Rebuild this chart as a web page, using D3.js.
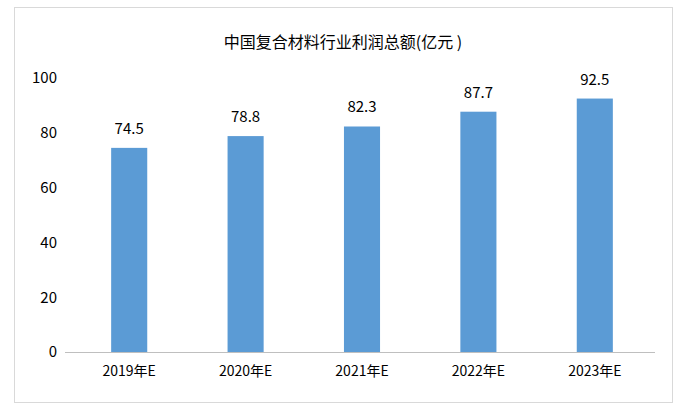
<!DOCTYPE html>
<html><head><meta charset="utf-8">
<script src="https://cdn.jsdelivr.net/npm/d3@7"></script>
<style>body{margin:0;background:#fff}</style></head>
<body><svg id="c" width="690" height="413"></svg>
<script>
const categories=["2019年E","2020年E","2021年E","2022年E","2023年E"];
const values=[74.5,78.8,82.3,87.7,92.5];
const yTicks=[0,20,40,60,80,100];
const title="中国复合材料行业利润总额(亿元 )";
const svg=d3.select("#c");
const font="'Noto Sans CJK SC','Microsoft YaHei',sans-serif";
svg.append("rect").attr("x",14.5).attr("y",7.5).attr("width",658).attr("height",395).attr("fill","#fff").attr("stroke","#d9d9d9");
const x=d3.scaleBand().domain(categories).range([71,653]).paddingInner(0.69).paddingOuter(0.345);
const y=d3.scaleLinear().domain([0,100]).range([352,78]);
svg.append("text").attr("x",343).attr("y",48).attr("text-anchor","middle").attr("font-family",font).attr("font-size",16).attr("fill","#000").text(title);
const ya=svg.append("g").attr("transform","translate(63,0)").call(d3.axisLeft(y).tickValues(yTicks).tickSize(0).tickPadding(0));
ya.select(".domain").remove();
ya.selectAll("text").attr("font-family",font).attr("font-size",15).attr("fill","#000").attr("x",-6);
svg.selectAll(".bar").data(values).enter().append("rect").attr("x",(d,i)=>x(categories[i])).attr("y",d=>y(d)).attr("width",x.bandwidth()).attr("height",d=>352-y(d)).attr("fill","#5b9bd5");
svg.selectAll(".lbl").data(values).enter().append("text").attr("x",(d,i)=>x(categories[i])+x.bandwidth()/2).attr("y",d=>y(d)-14).attr("text-anchor","middle").attr("font-family",font).attr("font-size",15).attr("fill","#000").text(d=>d.toFixed(1));
const xa=svg.append("g").attr("transform","translate(0,352)").call(d3.axisBottom(x).tickSize(0).tickPadding(14));
xa.select(".domain").attr("stroke","#bfbfbf").attr("d","M65,0.5H655");
xa.selectAll("text").attr("font-family",font).attr("font-size",14).attr("fill","#000");
</script></body></html>
